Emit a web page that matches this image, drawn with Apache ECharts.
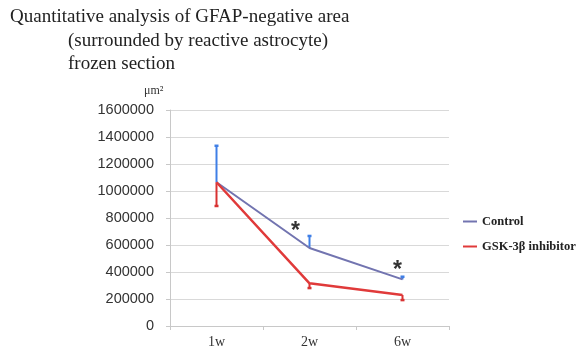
<!DOCTYPE html>
<html><head><meta charset="utf-8">
<script src="https://cdn.jsdelivr.net/npm/echarts@6/dist/echarts.min.js"></script>
<style>html,body{margin:0;padding:0;background:#fff}#c{width:578px;height:351px}</style>
</head><body><div id="c"></div>
<script>
var categories = ['1w', '2w', '6w'];
var controlValues = [1065000, 578000, 345000];
var controlErrTop = [1335000, 667000, 365000];
var gskValues = [1065000, 316000, 230000];
var gskErrBottom = [889000, 281000, 192000];
var starCategories = ['2w', '6w'];
var starValues = [741000, 452000];
var yTicks = [0, 200000, 400000, 600000, 800000, 1000000, 1200000, 1400000, 1600000];

var serif = '"Liberation Serif","DejaVu Serif",serif';
var sans = '"Liberation Sans",Arial,sans-serif';

function errRender(color) {
  return function (params, api) {
    var i = api.value(0);
    var p1 = api.coord([i, api.value(1)]);
    var p2 = api.coord([i, api.value(2)]);
    return {
      type: 'group',
      children: [
        {type: 'line', shape: {x1: p1[0], y1: p1[1], x2: p2[0], y2: p2[1]}, style: {stroke: color, lineWidth: 2}},
        {type: 'line', shape: {x1: p2[0] - 2, y1: p2[1], x2: p2[0] + 2, y2: p2[1]}, style: {stroke: color, lineWidth: 2.5}}
      ]
    };
  };
}

var titleStyle = {fontFamily: serif, fontSize: 19, fontWeight: 'normal', color: '#222'};
var chart = echarts.init(document.getElementById('c'), null, {renderer: 'canvas'});
chart.setOption({
  animation: false,
  backgroundColor: '#fff',
  title: [
    {text: 'Quantitative analysis of GFAP-negative area', left: 5, top: 3, textStyle: titleStyle},
    {text: '(surrounded by reactive astrocyte)', left: 63, top: 27, textStyle: titleStyle},
    {text: 'frozen section', left: 63, top: 50, textStyle: titleStyle},
    {text: 'μm²', left: 139, top: 80, textStyle: {fontFamily: serif, fontSize: 12, fontWeight: 'normal', color: '#333'}}
  ],
  legend: {
    orient: 'vertical', left: 458, top: 210, itemGap: 12,
    itemWidth: 14, itemHeight: 2, icon: 'rect',
    textStyle: {fontFamily: serif, fontSize: 12.5, fontWeight: 'bold', color: '#222'},
    data: ['Control', 'GSK-3β inhibitor']
  },
  grid: {left: 170, right: 129, top: 110, bottom: 25, containLabel: false},
  xAxis: {
    type: 'category', data: categories, boundaryGap: true,
    axisLine: {lineStyle: {color: '#c8c8c8'}},
    axisTick: {show: true, length: 4, lineStyle: {color: '#c8c8c8'}},
    axisLabel: {fontFamily: serif, fontSize: 14, color: '#333', margin: 9}
  },
  yAxis: {
    type: 'value', min: 0, max: 1600000, interval: 200000,
    axisLine: {show: true, lineStyle: {color: '#c8c8c8'}},
    axisTick: {show: true, length: 4, lineStyle: {color: '#c8c8c8'}},
    splitLine: {lineStyle: {color: '#d9d9d9'}},
    axisLabel: {fontFamily: sans, fontSize: 14.5, color: '#333', margin: 16,
      formatter: function (v) { return yTicks.indexOf(v) >= 0 ? String(v) : ''; }}
  },
  series: [
    {name: 'Control', type: 'line', data: controlValues, symbol: 'none', z: 3,
     lineStyle: {color: '#7274b0', width: 2}, itemStyle: {color: '#7274b0'}},
    {name: 'GSK-3β inhibitor', type: 'line', data: gskValues, symbol: 'none', z: 4,
     lineStyle: {color: '#e03a3a', width: 2.5}, itemStyle: {color: '#e03a3a'}},
    {type: 'custom', z: 2, renderItem: errRender('#3f7fe6'),
     data: controlValues.map(function (v, i) { return [i, v, controlErrTop[i]]; })},
    {type: 'custom', z: 2, renderItem: errRender('#d83232'),
     data: gskValues.map(function (v, i) { return [i, v, gskErrBottom[i]]; })},
    {type: 'custom', z: 5,
     renderItem: function (params, api) {
       var p = api.coord([api.value(0), api.value(1)]);
       var dx = params.dataIndex === 0 ? -14 : -5;
       return {type: 'text', x: p[0] + dx, y: p[1] + 6,
         style: {text: '*', fontFamily: sans, fontSize: 23, fontWeight: 'bold', fill: '#333', align: 'center', verticalAlign: 'middle'}};
     },
     data: starCategories.map(function (c, i) { return [categories.indexOf(c), starValues[i]]; })}
  ]
});
</script></body></html>
